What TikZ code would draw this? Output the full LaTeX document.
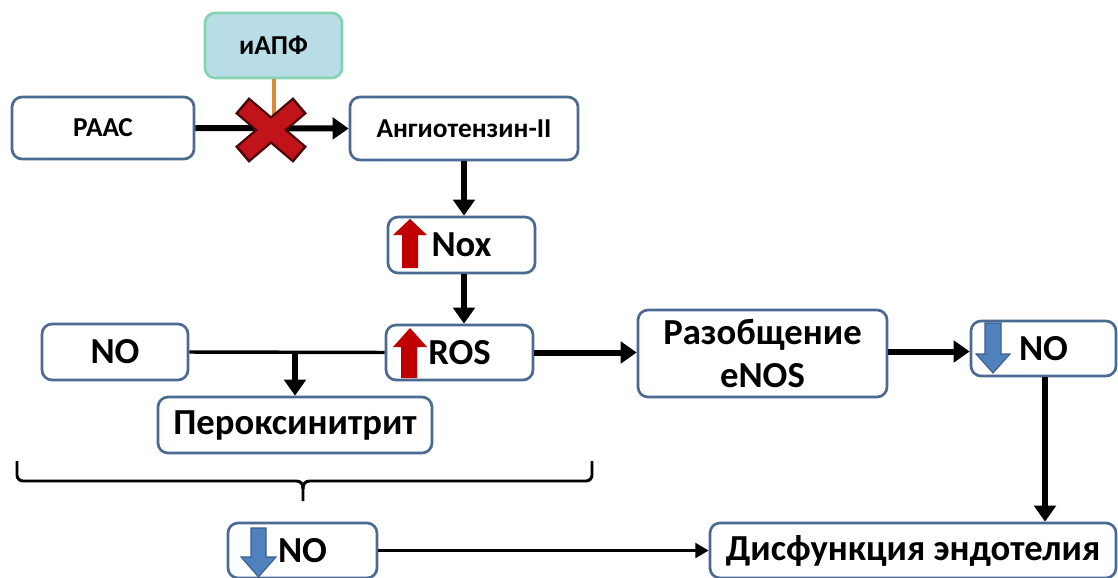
\documentclass[tikz,border=0pt]{standalone}
\usepackage{fontspec}
\setmainfont{Carlito}
\usetikzlibrary{arrows.meta,calc}
\definecolor{boxc}{HTML}{4A6A93}
\definecolor{iapffill}{HTML}{B9DDE6}
\definecolor{iapfdraw}{HTML}{86D3B4}
\definecolor{redc}{HTML}{C00000}
\definecolor{xdark}{HTML}{4A0808}
\definecolor{xred}{HTML}{C0141A}
\definecolor{bluec}{HTML}{4F81BD}
\definecolor{bluedark}{HTML}{3A5F8C}
\definecolor{orangec}{HTML}{DB8A3A}
\begin{document}
\begin{tikzpicture}[x=0.75pt,y=-0.75pt,
  box/.style={draw=boxc, line width=2pt, rounded corners=7.5pt, fill=white, inner sep=0pt, align=center,
    font=\bfseries\fontsize{27.5}{32.5}\selectfont},
  sbox/.style={box, font=\bfseries\fontsize{20.5}{24}\selectfont},
  sz/.style 2 args={minimum width=#1*0.75pt, minimum height=#2*0.75pt},
  arr/.style={line width=4pt, -{Triangle[length=12pt,width=16pt]}},
  tarr/.style={line width=2.4pt, -{Triangle[length=10pt,width=11pt]}},
  tline/.style={line width=2.6pt},
  bluearrow/.style={fill=bluec, draw=bluedark, line width=0.8pt},
  redarrow/.style={fill=redc}
]
\useasboundingbox (0,0) rectangle (1118,578);
\fill[white] (0,0) rectangle (1118,578);

% nodes
\node[sbox, sz={137}{65}, fill=iapffill, draw=iapfdraw] (iapf) at (273.5,45.5) {иАПФ};
\node[sbox, sz={182}{62}] (raas) at (103,128) {РААС};
\node[sbox, sz={228}{63}] (ang) at (464,128.5) {Ангиотензин-II};
\node[box, sz={147}{56}] (nox) at (461.5,245) {Nox};
\node[box, sz={146}{56}] (no1) at (115,352) {NO};
\node[box, sz={147}{55}] (ros) at (459.5,352.5) {ROS};
\node[box, sz={274}{56}] (per) at (295,425) {Пероксинитрит};
\node[box, sz={249}{87}] (raz) at (762.5,353.5) {Разобщение\\eNOS};
\node[box, sz={145}{55}] (no2) at (1043.5,348.5) {NO};
\node[box, sz={149}{55}] (no3) at (302.5,550.5) {NO};
\node[box, sz={406}{55}] (dis) at (913,550.5) {Дисфункция эндотелия};

% arrow icons
\fill[redarrow] (393,235) -- (410,219) -- (427,235) -- (418,235) -- (418,268) -- (402,268) -- (402,235) -- cycle;
\fill[redarrow] (393,347) -- (410,328) -- (427,347) -- (417,347) -- (417,378) -- (401,378) -- (401,347) -- cycle;
\filldraw[bluearrow] (985,323) -- (1001,323) -- (1001,354) -- (1010,354) -- (993,373) -- (976,354) -- (985,354) -- cycle;
\filldraw[bluearrow] (251,528) -- (266,528) -- (266,557) -- (276,557) -- (258.5,577) -- (241,557) -- (251,557) -- cycle;

% connectors
\coordinate (xc) at (271,130);
\draw[arr, line width=4.5pt] (raas.east) -- (ang.west);
\draw[orangec, line width=3pt] (iapf.south) -- (iapf.south |- xc);
\draw[arr] (ang.south) -- (ang.south |- nox.north);
\draw[arr] (ang.south |- nox.south) -- (ang.south |- ros.north);
\draw[tline] (no1.east) -- (ros.west);
\coordinate (br) at (per.north |- no1.east);
\draw[arr] (br) -- (per.north);
\draw[arr, line width=4.5pt] (ros.east) -- (ros.east -| raz.west);
\draw[arr, line width=4.5pt] (raz.east |- no2.west) ++(0,3) coordinate (rz) -- (rz -| no2.west);
\draw[arr, line width=4.5pt] (no2.south) ++(1.5,0) coordinate (n2) -- (n2 |- dis.north);
\draw[tarr] (no3.east) -- (no3.east -| dis.west);

% red cross
\draw[xdark, line width=16pt, shorten <=-2pt, shorten >=-2pt] (244,107) -- (298,153);
\draw[xdark, line width=16pt, shorten <=-2pt, shorten >=-2pt] (298,107) -- (244,153);
\draw[xred, line width=12.5pt] (244,107) -- (298,153);
\draw[xred, line width=12.5pt] (298,107) -- (244,153);

% brace
\coordinate (btip) at (303,501);
\draw[line width=2.2pt, line join=round] (17,461) -- (17,475) arc[start angle=180, end angle=270, radius=4.5pt] -- (296,481)
  .. controls (301,481) and (303,484) .. (303,489) -- (btip);
\draw[line width=2.2pt, line join=round] (592,461) -- (592,475) arc[start angle=0, end angle=-90, radius=4.5pt] -- (310,481)
  .. controls (305,481) and (303,484) .. (303,489);
\end{tikzpicture}
\end{document}
